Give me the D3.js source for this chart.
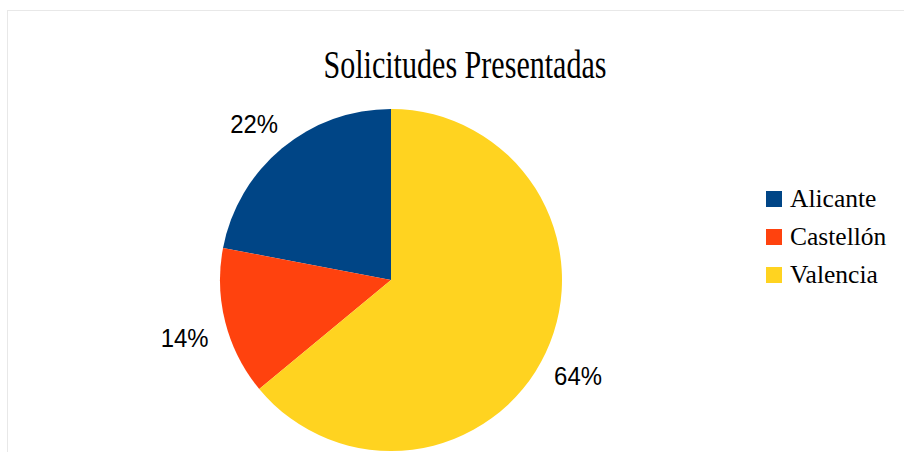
<!DOCTYPE html>
<html><head><meta charset="utf-8">
<script src="https://cdn.jsdelivr.net/npm/d3@7/dist/d3.min.js"></script>
<style>body{margin:0;background:#fff}svg{display:block}</style>
</head><body>
<svg id="c" width="904" height="452"></svg>
<script>
const categories = ["Alicante", "Castellón", "Valencia"];
const values = [22, 14, 64];
const labels = ["22%", "14%", "64%"];
const colors = ["#004586", "#ff420e", "#ffd320"];
const title = "Solicitudes Presentadas";

const svg = d3.select("#c");
svg.append("rect").attr("x", 7.5).attr("y", 10.5).attr("width", 910).attr("height", 460)
  .attr("fill", "#fff").attr("stroke", "#e8e8e8");

svg.append("text").attr("transform", "translate(465,78) scale(0.752,1)").attr("text-anchor", "middle")
  .attr("font-family", "Liberation Serif").attr("font-size", 40).attr("fill", "#000")
  .text(title);

const cx = 391, cy = 280, r = 171;
const pie = d3.pie().sort(null).startAngle(0).endAngle(-2 * Math.PI);
const arcs = pie(values);
const arc = d3.arc().innerRadius(0).outerRadius(r);
const g = svg.append("g").attr("transform", `translate(${cx},${cy})`);
const color = d3.scaleOrdinal().domain(categories).range(colors);
g.selectAll("path").data(arcs).join("path")
  .attr("d", arc).attr("fill", (d, i) => color(categories[i]));

const labelArc = d3.arc().innerRadius(210).outerRadius(210);
g.selectAll("text.lbl").data(arcs).join("text").attr("class", "lbl")
  .attr("transform", d => { const p = labelArc.centroid(d); return `translate(${p[0] - 3},${p[1] + 6})scale(0.92,1)`; })
  .attr("text-anchor", "middle").attr("dy", "0.35em")
  .attr("font-family", "Liberation Sans").attr("font-size", 26).attr("fill", "#000")
  .text((d, i) => labels[i]);

const ly = d3.scalePoint().domain(categories).range([191, 267]);
const leg = svg.append("g");
leg.selectAll("rect").data(categories).join("rect")
  .attr("x", 766).attr("y", d => ly(d)).attr("width", 16).attr("height", 16)
  .attr("fill", d => color(d));
leg.selectAll("text").data(categories).join("text")
  .attr("x", 790).attr("y", d => ly(d) + 16)
  .attr("font-family", "Liberation Serif").attr("font-size", 25.5).attr("fill", "#000")
  .text(d => d);
</script>
</body></html>
